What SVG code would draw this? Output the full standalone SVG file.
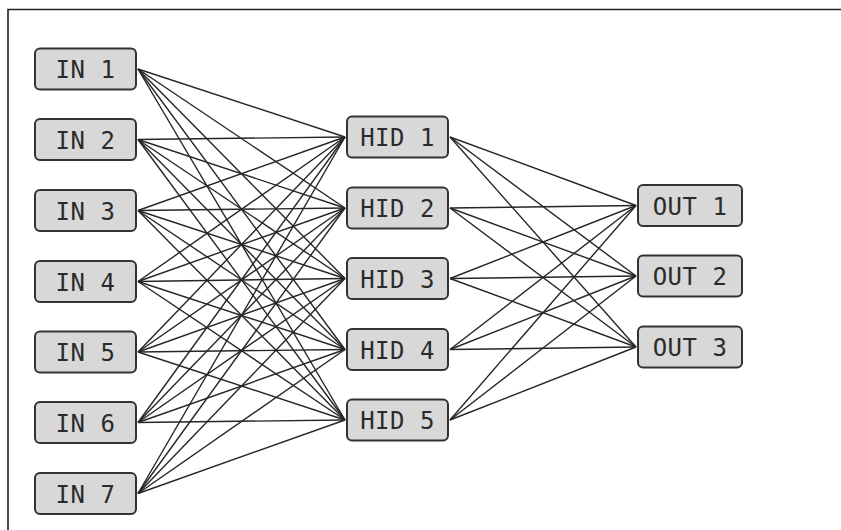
<svg xmlns="http://www.w3.org/2000/svg" width="841" height="530" viewBox="0 0 841 530">
  <style>
    .frame { stroke: #222; stroke-width: 1.6; fill: none; }
    .box { fill: #d8d8d8; stroke: #333; stroke-width: 2; }
    .lbl { font-family: "DejaVu Sans Mono", "Liberation Mono", monospace; font-size: 24px; fill: #2b2b2b; text-anchor: middle; letter-spacing: 0.5px; }
    .edges line { stroke: #262626; stroke-width: 1.4; }
  </style>
  <rect x="0" y="0" width="841" height="530" fill="#ffffff"/>
  <!-- outer frame (top and left edges) -->
  <path class="frame" d="M8 530 V9.5 H841"/>

  <!-- connections -->
  <g class="edges">
    <!-- input layer to hidden layer -->
    <line x1="138" y1="69" x2="345" y2="137"/>
    <line x1="138" y1="69" x2="345" y2="208"/>
    <line x1="138" y1="69" x2="345" y2="278.5"/>
    <line x1="138" y1="69" x2="345" y2="349.5"/>
    <line x1="138" y1="69" x2="345" y2="420"/>
    <line x1="138" y1="139.5" x2="345" y2="137"/>
    <line x1="138" y1="139.5" x2="345" y2="208"/>
    <line x1="138" y1="139.5" x2="345" y2="278.5"/>
    <line x1="138" y1="139.5" x2="345" y2="349.5"/>
    <line x1="138" y1="139.5" x2="345" y2="420"/>
    <line x1="138" y1="210.5" x2="345" y2="137"/>
    <line x1="138" y1="210.5" x2="345" y2="208"/>
    <line x1="138" y1="210.5" x2="345" y2="278.5"/>
    <line x1="138" y1="210.5" x2="345" y2="349.5"/>
    <line x1="138" y1="210.5" x2="345" y2="420"/>
    <line x1="138" y1="281.5" x2="345" y2="137"/>
    <line x1="138" y1="281.5" x2="345" y2="208"/>
    <line x1="138" y1="281.5" x2="345" y2="278.5"/>
    <line x1="138" y1="281.5" x2="345" y2="349.5"/>
    <line x1="138" y1="281.5" x2="345" y2="420"/>
    <line x1="138" y1="352" x2="345" y2="137"/>
    <line x1="138" y1="352" x2="345" y2="208"/>
    <line x1="138" y1="352" x2="345" y2="278.5"/>
    <line x1="138" y1="352" x2="345" y2="349.5"/>
    <line x1="138" y1="352" x2="345" y2="420"/>
    <line x1="138" y1="422.5" x2="345" y2="137"/>
    <line x1="138" y1="422.5" x2="345" y2="208"/>
    <line x1="138" y1="422.5" x2="345" y2="278.5"/>
    <line x1="138" y1="422.5" x2="345" y2="349.5"/>
    <line x1="138" y1="422.5" x2="345" y2="420"/>
    <line x1="138" y1="493.5" x2="345" y2="137"/>
    <line x1="138" y1="493.5" x2="345" y2="208"/>
    <line x1="138" y1="493.5" x2="345" y2="278.5"/>
    <line x1="138" y1="493.5" x2="345" y2="349.5"/>
    <line x1="138" y1="493.5" x2="345" y2="420"/>
    <!-- hidden layer to output layer -->
    <line x1="450" y1="137" x2="636" y2="205.5"/>
    <line x1="450" y1="137" x2="636" y2="276"/>
    <line x1="450" y1="137" x2="636" y2="347"/>
    <line x1="450" y1="208" x2="636" y2="205.5"/>
    <line x1="450" y1="208" x2="636" y2="276"/>
    <line x1="450" y1="208" x2="636" y2="347"/>
    <line x1="450" y1="278.5" x2="636" y2="205.5"/>
    <line x1="450" y1="278.5" x2="636" y2="276"/>
    <line x1="450" y1="278.5" x2="636" y2="347"/>
    <line x1="450" y1="349.5" x2="636" y2="205.5"/>
    <line x1="450" y1="349.5" x2="636" y2="276"/>
    <line x1="450" y1="349.5" x2="636" y2="347"/>
    <line x1="450" y1="420" x2="636" y2="205.5"/>
    <line x1="450" y1="420" x2="636" y2="276"/>
    <line x1="450" y1="420" x2="636" y2="347"/>
  </g>

  <!-- input nodes -->
  <g id="in1"><rect class="box" x="35" y="48.5" width="101" height="41" rx="5"/><text class="lbl" x="85.5" y="78">IN 1</text></g>
  <g id="in2"><rect class="box" x="35" y="119" width="101" height="41" rx="5"/><text class="lbl" x="85.5" y="148.5">IN 2</text></g>
  <g id="in3"><rect class="box" x="35" y="190" width="101" height="41" rx="5"/><text class="lbl" x="85.5" y="219.5">IN 3</text></g>
  <g id="in4"><rect class="box" x="35" y="261" width="101" height="41" rx="5"/><text class="lbl" x="85.5" y="290.5">IN 4</text></g>
  <g id="in5"><rect class="box" x="35" y="331.5" width="101" height="41" rx="5"/><text class="lbl" x="85.5" y="361">IN 5</text></g>
  <g id="in6"><rect class="box" x="35" y="402" width="101" height="41" rx="5"/><text class="lbl" x="85.5" y="431.5">IN 6</text></g>
  <g id="in7"><rect class="box" x="35" y="473" width="101" height="41" rx="5"/><text class="lbl" x="85.5" y="502.5">IN 7</text></g>

  <!-- hidden nodes -->
  <g id="hid1"><rect class="box" x="347" y="116.5" width="101" height="41" rx="5"/><text class="lbl" x="397.5" y="146">HID 1</text></g>
  <g id="hid2"><rect class="box" x="347" y="187.5" width="101" height="41" rx="5"/><text class="lbl" x="397.5" y="217">HID 2</text></g>
  <g id="hid3"><rect class="box" x="347" y="258" width="101" height="41" rx="5"/><text class="lbl" x="397.5" y="287.5">HID 3</text></g>
  <g id="hid4"><rect class="box" x="347" y="329" width="101" height="41" rx="5"/><text class="lbl" x="397.5" y="358.5">HID 4</text></g>
  <g id="hid5"><rect class="box" x="347" y="399.5" width="101" height="41" rx="5"/><text class="lbl" x="397.5" y="429">HID 5</text></g>

  <!-- output nodes -->
  <g id="out1"><rect class="box" x="638" y="185" width="104" height="41" rx="5"/><text class="lbl" x="690" y="214.5">OUT 1</text></g>
  <g id="out2"><rect class="box" x="638" y="255.5" width="104" height="41" rx="5"/><text class="lbl" x="690" y="285">OUT 2</text></g>
  <g id="out3"><rect class="box" x="638" y="326.5" width="104" height="41" rx="5"/><text class="lbl" x="690" y="356">OUT 3</text></g>
</svg>
